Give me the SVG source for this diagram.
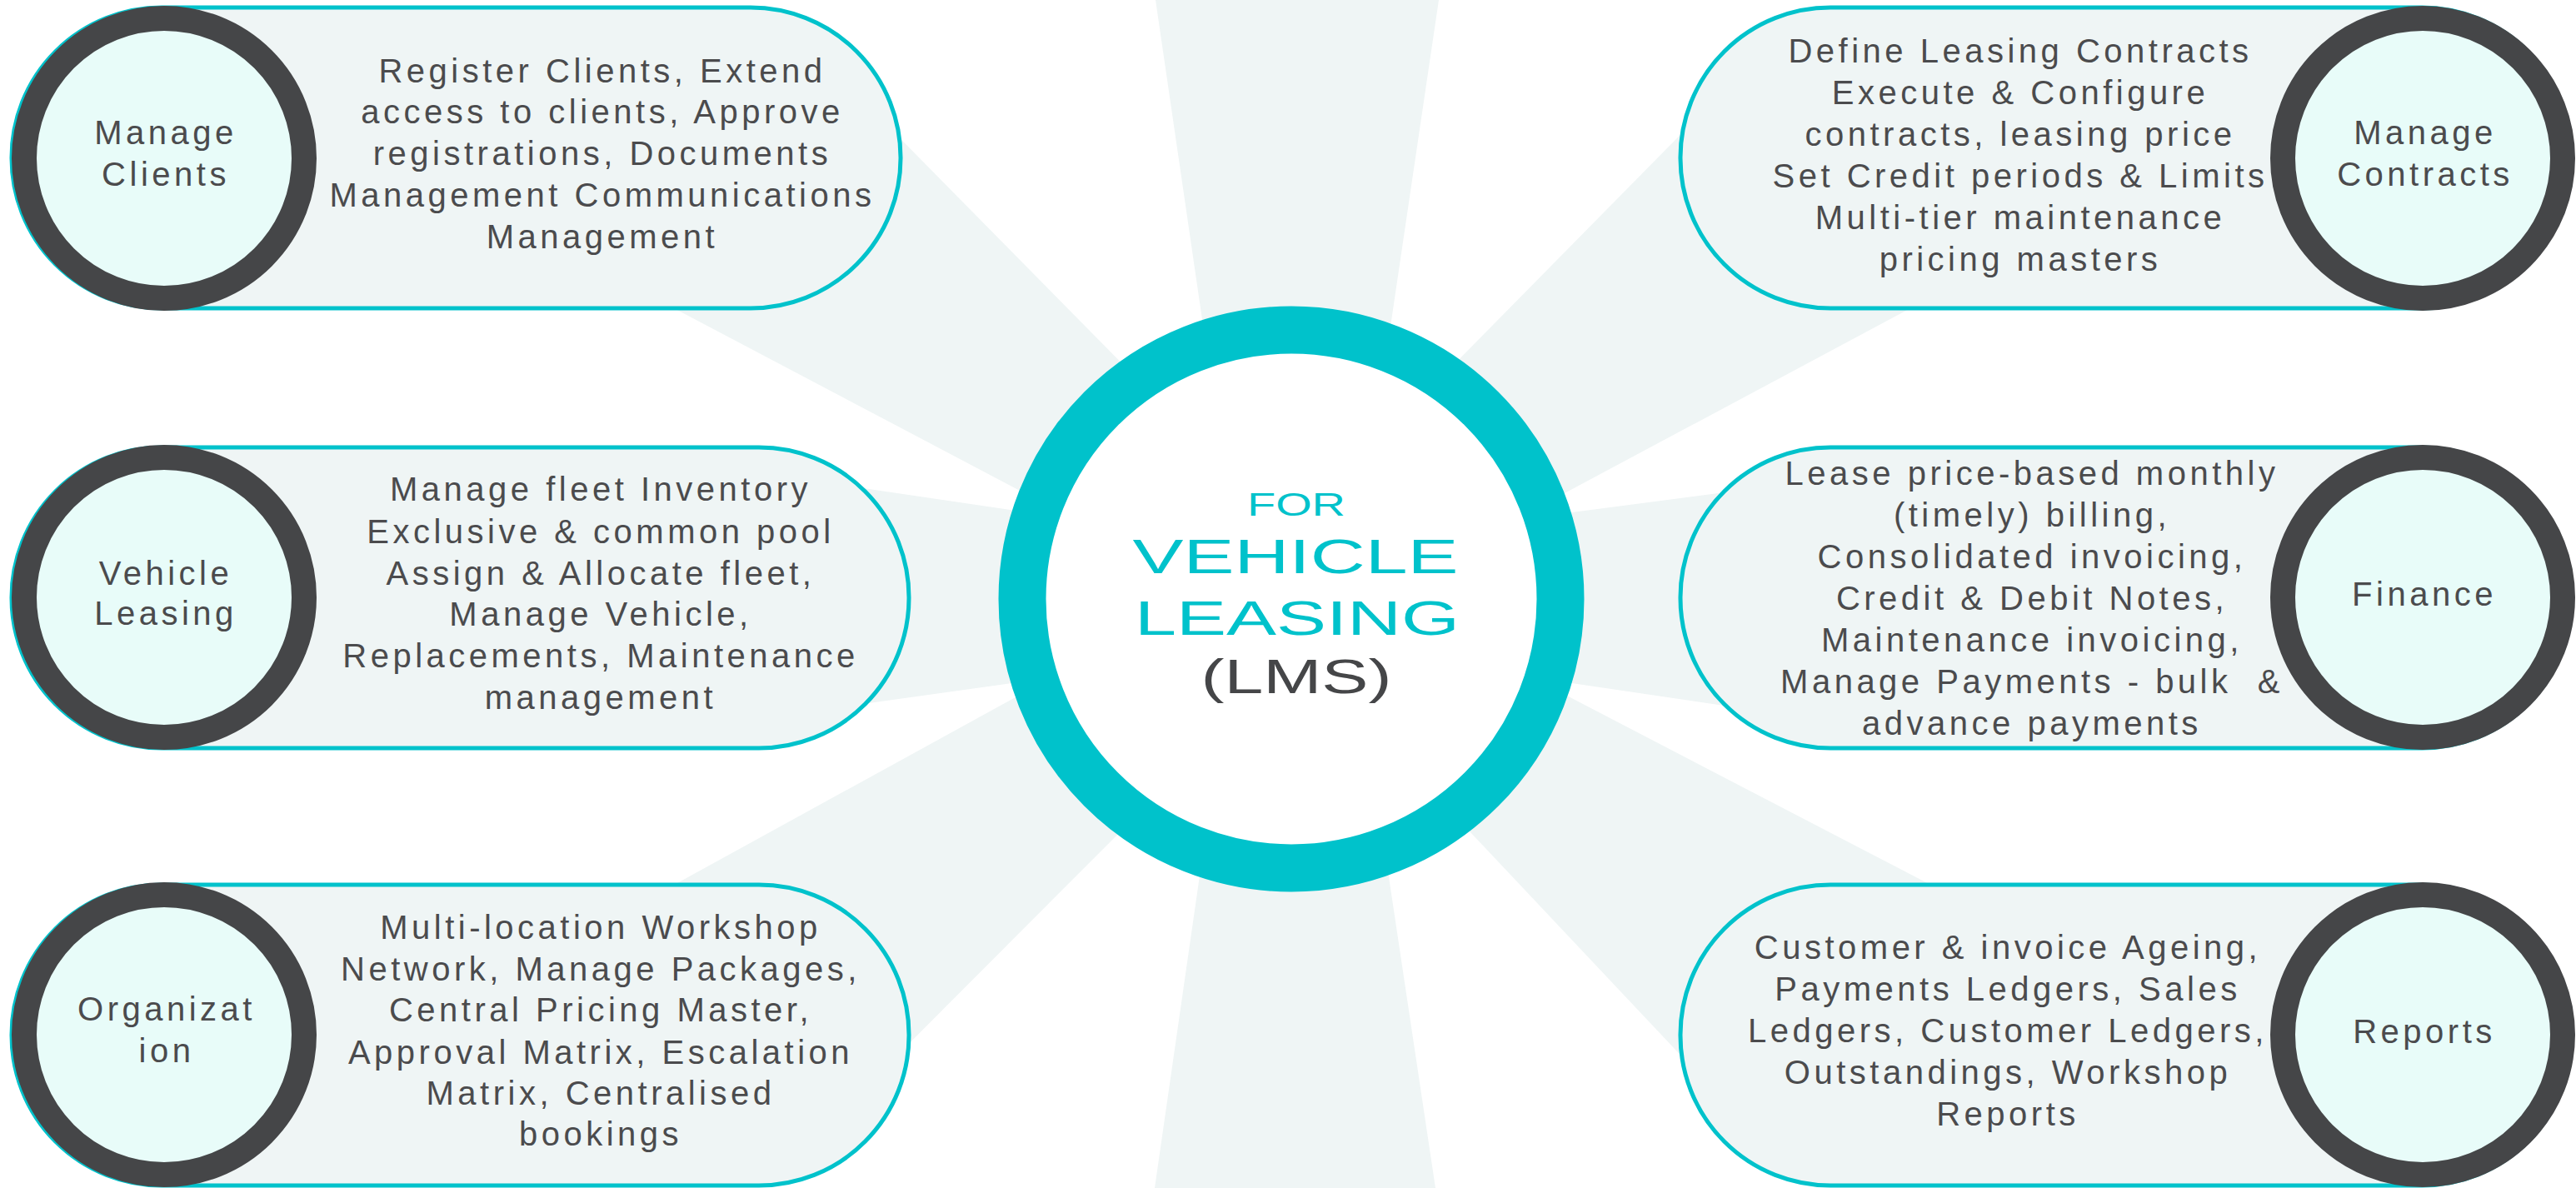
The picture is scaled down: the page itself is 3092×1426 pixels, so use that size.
<svg xmlns="http://www.w3.org/2000/svg" width="3092" height="1426" viewBox="0 0 3092 1426">
<defs>
<style>
.ray{fill:#EFF5F5;}
.pill{fill:#EFF5F5;stroke:#00C2CB;stroke-width:5;}
.disc{fill:#E8FCF9;stroke:#454648;stroke-width:30;}
.lbl{font-family:"Liberation Sans",Arial,sans-serif;font-size:40px;letter-spacing:4.5px;fill:#4b4b4d;text-anchor:middle;}
.desc{font-family:"Liberation Sans",Arial,sans-serif;font-size:40px;letter-spacing:4.5px;fill:#4b4b4d;text-anchor:middle;}
.hub{font-family:"Liberation Sans",Arial,sans-serif;text-anchor:middle;}
</style>
</defs>
<rect x="0" y="0" width="3092" height="1426" fill="#FFFFFF"/>

<g id="connectors">
  <polygon class="ray" points="1387,0 1727,0 1653,500 1460,500"/>
  <polygon class="ray" points="1386,1426 1723,1426 1648,926 1458,926"/>
  <polygon class="ray" points="956,40 183,40 1450,708 1450,541"/>
  <polygon class="ray" points="800,551 800,878 1450,787 1450,647"/>
  <polygon class="ray" points="194,1400 944,1400 1450,893 1450,710"/>
  <polygon class="ray" points="2137,40 2910,40 1650,714 1650,534"/>
  <polygon class="ray" points="2300,561 2300,881 1650,785 1650,646"/>
  <polygon class="ray" points="2967,1400 2143,1400 1650,877 1650,715"/>
</g>

<g id="hub">
  <circle cx="1550" cy="719" r="323" fill="#FFFFFF" stroke="#00C2CB" stroke-width="57"/>
  <text class="hub" x="1556" y="619" font-size="39" fill="#00C2CB" textLength="118" lengthAdjust="spacingAndGlyphs">FOR</text>
  <text class="hub" x="1555" y="688" font-size="58" fill="#00C2CB" textLength="391" lengthAdjust="spacingAndGlyphs">VEHICLE</text>
  <text class="hub" x="1557" y="762" font-size="58" fill="#00C2CB" textLength="390" lengthAdjust="spacingAndGlyphs">LEASING</text>
  <text class="hub" x="1556" y="832" font-size="58" fill="#454648" textLength="229" lengthAdjust="spacingAndGlyphs">(LMS)</text>
</g>

<g id="manage-clients">
  <rect class="pill" x="14" y="9" width="1067" height="361" rx="180" ry="180"/>
  <circle class="disc" cx="197" cy="190" r="168"/>
  <text class="lbl" x="199" y="173">Manage</text>
  <text class="lbl" x="199" y="223">Clients</text>
  <text class="desc" x="723" y="99">Register Clients, Extend</text>
  <text class="desc" x="723" y="148">access to clients, Approve</text>
  <text class="desc" x="723" y="198">registrations, Documents</text>
  <text class="desc" x="723" y="248">Management Communications</text>
  <text class="desc" x="723" y="298">Management</text>
</g>

<g id="vehicle-leasing">
  <rect class="pill" x="14" y="537" width="1077" height="361" rx="180" ry="180"/>
  <circle class="disc" cx="197" cy="717" r="168"/>
  <text class="lbl" x="199" y="702">Vehicle</text>
  <text class="lbl" x="199" y="750">Leasing</text>
  <text class="desc" x="721" y="601">Manage fleet Inventory</text>
  <text class="desc" x="721" y="652">Exclusive &amp; common pool</text>
  <text class="desc" x="721" y="702">Assign &amp; Allocate fleet,</text>
  <text class="desc" x="721" y="751">Manage Vehicle,</text>
  <text class="desc" x="721" y="801">Replacements, Maintenance</text>
  <text class="desc" x="721" y="851">management</text>
</g>

<g id="organization">
  <rect class="pill" x="14" y="1062" width="1077" height="361" rx="180" ry="180"/>
  <circle class="disc" cx="197" cy="1242" r="168"/>
  <text class="lbl" x="200" y="1225">Organizat</text>
  <text class="lbl" x="200" y="1275">ion</text>
  <text class="desc" x="721" y="1127">Multi-location Workshop</text>
  <text class="desc" x="721" y="1177">Network, Manage Packages,</text>
  <text class="desc" x="721" y="1226">Central Pricing Master,</text>
  <text class="desc" x="721" y="1277">Approval Matrix, Escalation</text>
  <text class="desc" x="721" y="1326">Matrix, Centralised</text>
  <text class="desc" x="721" y="1375">bookings</text>
</g>

<g id="manage-contracts">
  <rect class="pill" x="2017" y="9" width="1070" height="361" rx="180" ry="180"/>
  <circle class="disc" cx="2908" cy="190" r="168"/>
  <text class="lbl" x="2911" y="173">Manage</text>
  <text class="lbl" x="2911" y="223">Contracts</text>
  <text class="desc" x="2425" y="75">Define Leasing Contracts</text>
  <text class="desc" x="2425" y="125">Execute &amp; Configure</text>
  <text class="desc" x="2425" y="175">contracts, leasing price</text>
  <text class="desc" x="2425" y="225">Set Credit periods &amp; Limits</text>
  <text class="desc" x="2425" y="275">Multi-tier maintenance</text>
  <text class="desc" x="2425" y="325">pricing masters</text>
</g>

<g id="finance">
  <rect class="pill" x="2017" y="537" width="1070" height="361" rx="180" ry="180"/>
  <circle class="disc" cx="2908" cy="717" r="168"/>
  <text class="lbl" x="2910" y="727">Finance</text>
  <text class="desc" x="2439" y="582">Lease price-based monthly</text>
  <text class="desc" x="2439" y="632">(timely) billing,</text>
  <text class="desc" x="2439" y="682">Consolidated invoicing,</text>
  <text class="desc" x="2439" y="732">Credit &amp; Debit Notes,</text>
  <text class="desc" x="2439" y="782">Maintenance invoicing,</text>
  <text class="desc" x="2439" y="832">Manage Payments - bulk&#160; &amp;</text>
  <text class="desc" x="2439" y="882">advance payments</text>
</g>

<g id="reports">
  <rect class="pill" x="2017" y="1062" width="1070" height="361" rx="180" ry="180"/>
  <circle class="disc" cx="2908" cy="1242" r="168"/>
  <text class="lbl" x="2910" y="1252">Reports</text>
  <text class="desc" x="2410" y="1151">Customer &amp; invoice Ageing,</text>
  <text class="desc" x="2410" y="1201">Payments Ledgers, Sales</text>
  <text class="desc" x="2410" y="1251">Ledgers, Customer Ledgers,</text>
  <text class="desc" x="2410" y="1301">Outstandings, Workshop</text>
  <text class="desc" x="2410" y="1351">Reports</text>
</g>
</svg>
